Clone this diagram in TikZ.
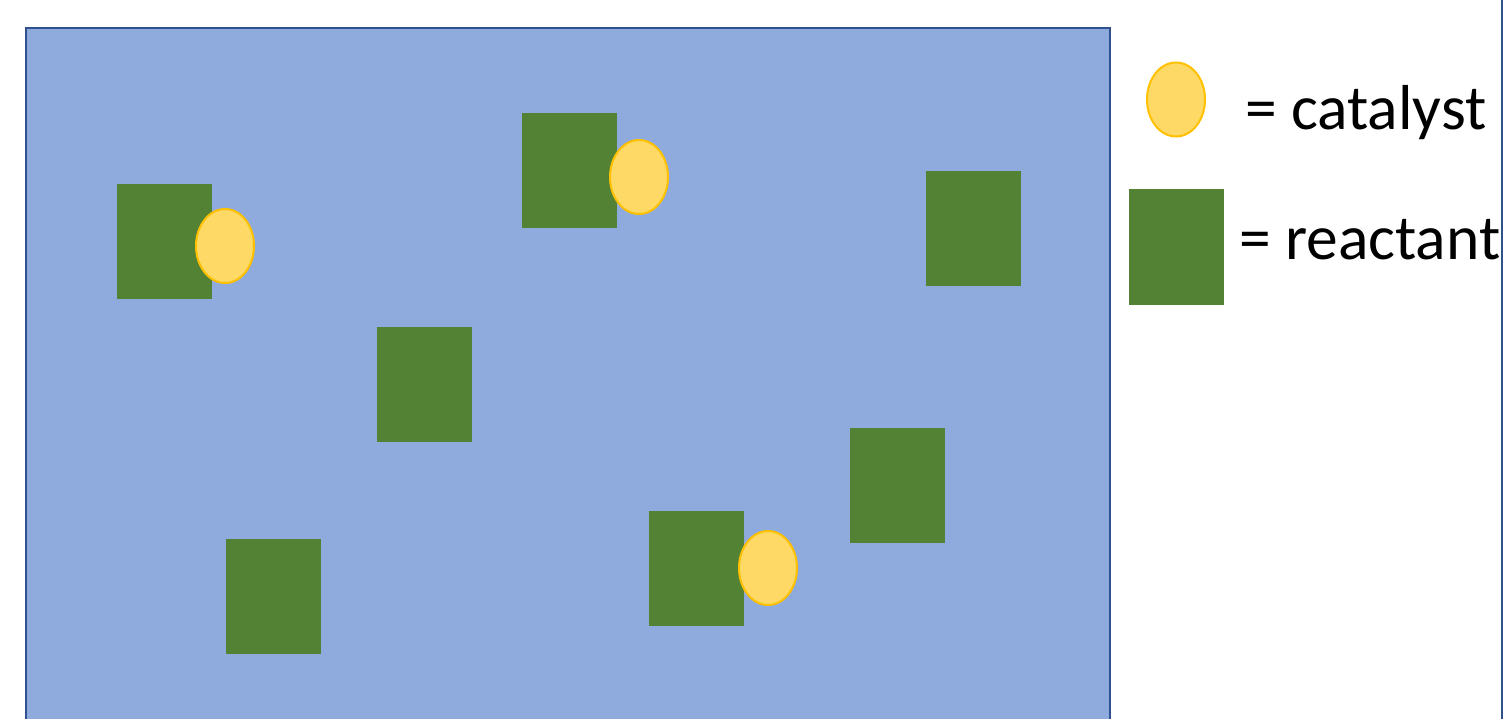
\documentclass[tikz,border=0pt]{standalone}
\usepackage{fontspec}
\setmainfont{Carlito}
\usetikzlibrary{shapes.geometric}
\definecolor{bgblue}{HTML}{8FAADC}
\definecolor{edgeblue}{HTML}{2F528F}
\definecolor{reactgreen}{HTML}{548235}
\definecolor{catfill}{HTML}{FFD966}
\definecolor{catedge}{HTML}{FFC000}
\begin{document}
\begin{tikzpicture}[x=1pt,y=-1pt,
  reactant/.style={fill=reactgreen,draw=none,minimum width=95pt,minimum height=115pt,inner sep=0pt,rectangle},
  catalyst/.style={ellipse,fill=catfill,draw=catedge,line width=2pt,minimum width=58pt,minimum height=74pt,inner sep=0pt},
  legendtext/.style={font=\fontsize{63.5}{72}\selectfont,anchor=base west,inner sep=0pt}]
\useasboundingbox (0,0) rectangle (1503,719);
\path[fill=bgblue,draw=edgeblue,line width=2.5pt] (26,28) -- (1110,28) -- (1110,730) -- (26,730) -- cycle;
\draw[edgeblue,line width=1.5pt] (1502,-5) -- (1502,725);
% reactants
\node[reactant] (r1) at (164.5,241.5) {};
\node[reactant] (r2) at (569,170.5) {};
\node[reactant] (r3) at (973.5,228.5) {};
\node[reactant] (r4) at (424.5,384.5) {};
\node[reactant] (r5) at (897.5,485) {};
\node[reactant] (r6) at (273.5,596.5) {};
\node[reactant] (r7) at (696.5,568.5) {};
% catalysts
\node[catalyst] (c1) at (225,246) {};
\node[catalyst] (c2) at (639,177) {};
\node[catalyst] (c3) at (768,568) {};
% legend
\node[catalyst] (lc) at (1176,99.5) {};
\node[reactant] (lr) at (1176.5,247) {};
\node[legendtext] (lct) at (1245,130) {= catalyst};
\node[legendtext] (lrt) at (1239,259) {= reactant};
\end{tikzpicture}
\end{document}
